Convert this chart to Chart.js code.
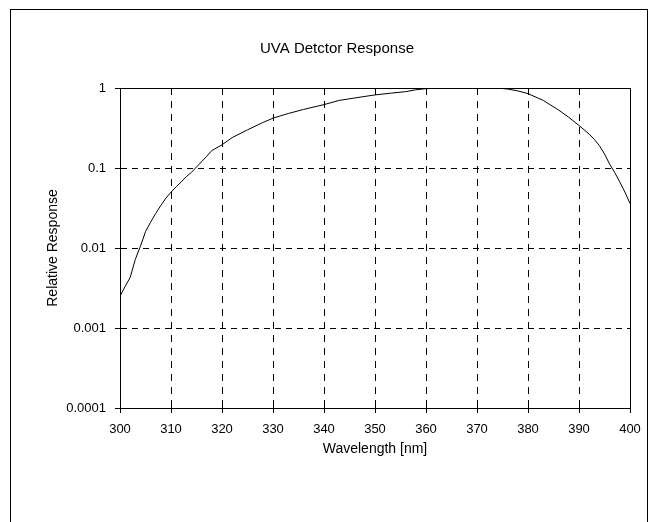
<!DOCTYPE html>
<html>
<head>
<meta charset="utf-8">
<script src="https://cdn.jsdelivr.net/npm/chart.js@4"></script>
<style>
  html, body { margin: 0; padding: 0; background: #fff; overflow: hidden; width: 656px; height: 522px; }
  #frame { position: absolute; left: 10px; top: 9px; width: 636px; height: 600px;
           border-left: 1px solid #000; border-top: 1px solid #000; border-right: 1px solid #000; }
  #c { position: absolute; left: 0; top: 0; }
</style>
</head>
<body>
<div id="frame"></div>
<canvas id="c" width="678" height="522"></canvas>
<script>
// ---- data ----
const chartTitle = 'UVA Detctor Response';
const xAxisTitle = 'Wavelength [nm]';
const yAxisTitle = 'Relative Response';
const wavelengths = [300, 301, 302, 303, 304, 305, 306, 307, 308, 309, 310, 311, 312, 313, 314, 315, 316, 317, 318, 320, 322, 325, 328, 330, 333, 336, 340, 343, 346, 350, 353, 356, 358, 360, 362, 365, 370, 374, 376, 378, 380, 383, 386, 388, 390, 392, 393, 394, 395, 396, 397, 398, 399, 400];
const response    = [0.0025, 0.0033, 0.0043, 0.0072, 0.0105, 0.016, 0.021, 0.027, 0.034, 0.042, 0.050, 0.058, 0.067, 0.078, 0.088, 0.103, 0.12, 0.14, 0.165, 0.195, 0.24, 0.30, 0.37, 0.42, 0.48, 0.54, 0.62, 0.70, 0.75, 0.82, 0.86, 0.90, 0.95, 0.98, 0.995, 1.0, 1.0, 1.0, 0.97, 0.92, 0.85, 0.70, 0.53, 0.43, 0.34, 0.265, 0.228, 0.19, 0.15, 0.112, 0.088, 0.067, 0.05, 0.036];
const xTickLabels = ['300', '310', '320', '330', '340', '350', '360', '370', '380', '390', '400'];
const yTickLabels = ['0.0001', '0.001', '0.01', '0.1', '1'];

const FONT = '"Liberation Sans", Arial, sans-serif';
const points = wavelengths.map((w, i) => ({ x: w, y: response[i] }));

// solid plot frame + small tick marks crossing into the plot
const framePlugin = {
  id: 'framePlugin',
  afterDatasetsDraw(chart) {
    const { ctx, chartArea: a, scales } = chart;
    const right = Math.round(scales.x.getPixelForValue(scales.x.max)) + 0.5;
    const top = Math.round(scales.y.getPixelForValue(scales.y.max)) + 0.5;
    ctx.save();
    ctx.strokeStyle = '#000';
    ctx.lineWidth = 1;
    ctx.setLineDash([]);
    ctx.beginPath();
    ctx.moveTo(a.left, top);
    ctx.lineTo(right, top);
    ctx.lineTo(right, a.bottom);
    ctx.stroke();
    ctx.beginPath();
    scales.x.ticks.forEach(t => {
      const px = Math.round(scales.x.getPixelForValue(t.value)) + 0.5;
      ctx.moveTo(px, a.bottom);
      ctx.lineTo(px, a.bottom - 4);
      ctx.moveTo(px, top);
      ctx.lineTo(px, top + 4);
    });
    scales.y.ticks.forEach(t => {
      const py = Math.round(scales.y.getPixelForValue(t.value)) + 0.5;
      ctx.moveTo(a.left, py);
      ctx.lineTo(a.left + 4, py);
    });
    ctx.stroke();
    ctx.restore();
  }
};

new Chart(document.getElementById('c'), {
  type: 'line',
  data: {
    datasets: [{
      data: points,
      borderColor: '#000',
      borderWidth: 1,
      pointRadius: 0,
      tension: 0,
      fill: false
    }]
  },
  options: {
    responsive: false,
    animation: false,
    events: [],
    layout: { padding: { left: 44, top: 0, right: 48, bottom: 54 } },
    plugins: {
      legend: { display: false },
      tooltip: { enabled: false },
      title: {
        display: true,
        text: chartTitle,
        color: '#000',
        font: { family: FONT, size: 15, weight: 'normal' },
        padding: { top: 40, bottom: 30 }
      }
    },
    scales: {
      x: {
        type: 'linear',
        min: 300,
        max: 400,
        afterFit: s => { s.height = 60; },
        ticks: {
          stepSize: 10,
          color: '#000',
          padding: 9,
          maxRotation: 0,
          font: { family: FONT, size: 13 },
          callback: (v) => xTickLabels[Math.round((v - 300) / 10)]
        },
        grid: { color: '#000', lineWidth: 1, tickLength: 5, tickColor: '#000' },
        border: { color: '#000', width: 1, dash: [7, 6] },
        title: {
          display: true,
          text: xAxisTitle,
          color: '#000',
          font: { family: FONT, size: 14 },
          padding: { top: 0, bottom: 10 }
        }
      },
      y: {
        type: 'logarithmic',
        min: 0.0001,
        max: 1,
        afterFit: s => { s.width = 76; },
        afterBuildTicks: s => {
          s.ticks = s.ticks.filter(t => Math.abs(Math.log10(t.value) - Math.round(Math.log10(t.value))) < 1e-6);
        },
        ticks: {
          color: '#000',
          padding: 9,
          font: { family: FONT, size: 13 },
          callback: (v) => {
            const e = Math.round(Math.log10(v));
            return yTickLabels[e + 4];
          }
        },
        grid: { color: '#000', lineWidth: 1, tickLength: 5, tickColor: '#000' },
        border: { color: '#000', width: 1, dash: [6, 5] },
        title: {
          display: true,
          text: yAxisTitle,
          color: '#000',
          font: { family: FONT, size: 14 },
          padding: { top: 1, bottom: 0 }
        }
      }
    }
  },
  plugins: [framePlugin]
});
</script>
</body>
</html>
